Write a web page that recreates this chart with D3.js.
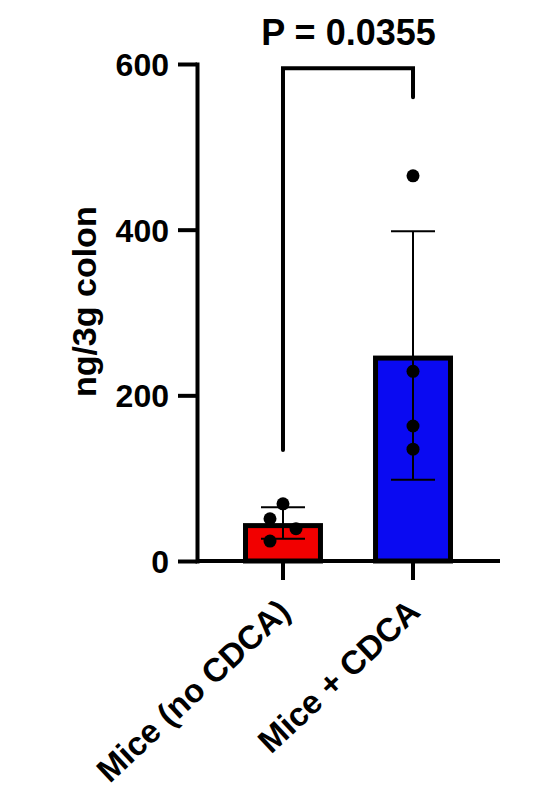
<!DOCTYPE html>
<html>
<head>
<meta charset="utf-8">
<script src="https://cdn.jsdelivr.net/npm/d3@7"></script>
<style>
  body { margin: 0; background: #fff; }
  text { font-family: "Liberation Sans", Arial, sans-serif; font-weight: bold; fill: #000; }
</style>
</head>
<body>
<svg id="chart"></svg>
<script>
// data
var groups = ["Mice (no CDCA)", "Mice + CDCA"];
var noCdca = [69, 51, 39, 24];
var plusCdca = [465, 229, 163, 135];
var yTicks = [0, 200, 400, 600];
var pLabel = "P = 0.0355";
var bracket = [134, 595, 560]; // left foot, top, right foot (y units)
var colors = ["#f20000", "#0a0af2"];

var width = 545, height = 798;
var svg = d3.select("#chart").attr("width", width).attr("height", height);

var y = d3.scaleLinear().domain([0, 600]).range([561, 64]);
var x = d3.scaleBand().domain(groups).range([204, 492])
          .paddingInner(0.385).paddingOuter(0.3);

var series = [noCdca, plusCdca].map(function(v, i) {
  return { name: groups[i], vals: v, mean: d3.mean(v), sd: d3.deviation(v), color: colors[i] };
});

// bars
var bw = 5;
svg.selectAll(".bar").data(series).enter().append("rect")
   .attr("class", "bar")
   .attr("x", function(d) { return x(d.name) + bw / 2; })
   .attr("y", function(d) { return y(d.mean) + bw / 2; })
   .attr("width", x.bandwidth() - bw)
   .attr("height", function(d) { return y(0) - y(d.mean) - bw / 2; })
   .attr("fill", function(d) { return d.color; })
   .attr("stroke", "#000").attr("stroke-width", bw);

// error bars (mean +/- SD)
var eb = svg.append("g").attr("stroke", "#000").attr("stroke-width", 2);
series.forEach(function(d) {
  var cx = x(d.name) + x.bandwidth() / 2;
  eb.append("line").attr("x1", cx).attr("x2", cx)
    .attr("y1", y(d.mean + d.sd)).attr("y2", y(d.mean - d.sd));
  [d.mean + d.sd, d.mean - d.sd].forEach(function(v) {
    eb.append("line").attr("x1", cx - 22).attr("x2", cx + 22)
      .attr("y1", y(v)).attr("y2", y(v));
  });
});

// points, simple swarm so dots don't overlap
var r = 6.5;
series.forEach(function(d) {
  var cx = x(d.name) + x.bandwidth() / 2;
  var placed = [];
  d.vals.forEach(function(v) {
    var py = y(v);
    var offs = [0, -13, 13, -26, 26];
    for (var k = 0; k < offs.length; k++) {
      var ok = placed.every(function(p) {
        return Math.hypot(p[0] - offs[k], p[1] - py) >= 18;
      });
      if (ok) { placed.push([offs[k], py]); break; }
    }
  });
  svg.selectAll(null).data(placed).enter().append("circle")
     .attr("cx", function(p) { return cx + p[0]; })
     .attr("cy", function(p) { return p[1]; })
     .attr("r", r).attr("fill", "#000");
});

// y axis
var yAxis = svg.append("g").attr("transform", "translate(197,0)")
   .call(d3.axisLeft(y).tickValues(yTicks).tickSize(19).tickPadding(9).tickSizeOuter(0));
yAxis.select(".domain").attr("stroke-width", 4).attr("stroke-linecap", "square");
yAxis.selectAll(".tick line").attr("stroke-width", 4);
yAxis.selectAll("text").style("font-size", "32px").attr("dy", "0.36em");

// x axis
var xAxis = svg.append("g").attr("transform", "translate(0," + y(0) + ")")
   .call(d3.axisBottom(x).tickSize(19).tickSizeOuter(0));
xAxis.select(".domain").attr("d", "M197,0H500").attr("stroke-width", 4);
xAxis.selectAll(".tick line").attr("stroke-width", 4);
xAxis.selectAll("text")
     .style("font-size", "33px")
     .attr("text-anchor", "end")
     .attr("dy", 0).attr("y", 0)
     .attr("transform", "translate(9,53) rotate(-43)");

// y label
svg.append("text")
   .attr("transform", "translate(96," + y(313) + ") rotate(-90)")
   .attr("text-anchor", "middle")
   .style("font-size", "34px")
   .text("ng/3g colon");

// significance bracket
var x1 = x(groups[0]) + x.bandwidth() / 2, x2 = x(groups[1]) + x.bandwidth() / 2;
svg.append("path")
   .attr("d", d3.line()([[x1, y(bracket[0])], [x1, y(bracket[1])], [x2, y(bracket[1])], [x2, y(bracket[2])]]))
   .attr("fill", "none").attr("stroke", "#000").attr("stroke-width", 4)
   .attr("stroke-linecap", "round");

svg.append("text")
   .attr("x", (x1 + x2) / 2 + 0.5).attr("y", 45)
   .attr("text-anchor", "middle")
   .style("font-size", "36px")
   .text(pLabel);
</script>
</body>
</html>
